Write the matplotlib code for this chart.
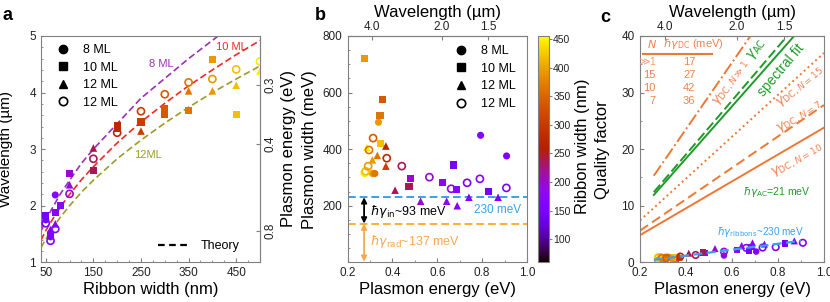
import numpy as np
import matplotlib
matplotlib.use("Agg")
import matplotlib.pyplot as plt
from matplotlib.lines import Line2D
from matplotlib.ticker import MultipleLocator, NullLocator, FormatStrFormatter
from matplotlib.colors import Normalize, PowerNorm
from matplotlib.cm import ScalarMappable

plt.rcParams['font.family'] = ['Liberation Sans', 'DejaVu Sans']
plt.rcParams['mathtext.fontset'] = 'dejavusans'
plt.rcParams['axes.edgecolor'] = '#808080'
plt.rcParams['xtick.color'] = '#808080'
plt.rcParams['ytick.color'] = '#808080'
plt.rcParams['xtick.labelcolor'] = '#222222'
plt.rcParams['ytick.labelcolor'] = '#222222'
plt.rcParams['xtick.direction'] = 'in'
plt.rcParams['ytick.direction'] = 'in'
plt.rcParams['xtick.labelsize'] = 8.5
plt.rcParams['ytick.labelsize'] = 8.5

HC = 1.2398  # eV * um

# ---------------- panel a : wavelength vs ribbon width
a_sq_w = [50, 60, 70, 80, 100, 150, 200, 200, 250, 300, 300, 350, 400, 450]
a_sq_lam = [1.82, 1.48, 1.88, 2.00, 2.57, 2.62, 3.42, 3.36, 3.48, 3.71, 3.61, 3.68, 4.59, 3.62]
a_tri_w = [60, 70, 100, 150, 200, 250, 350, 400, 450, 500]
a_tri_lam = [1.58, 1.68, 2.37, 3.02, 3.38, 3.32, 4.03, 4.03, 4.13, 4.38]
a_open_w = [50, 60, 70, 100, 150, 200, 250, 300, 350, 400, 450, 500]
a_open_lam = [1.69, 1.38, 1.59, 2.21, 2.83, 3.29, 3.67, 3.97, 4.18, 4.24, 4.41, 4.55]
a_circ_w = [50, 60, 60, 70]
a_circ_lam = [1.75, 1.52, 1.45, 2.19]

th8_w = [40, 50, 60, 80, 100, 125, 150, 200, 250, 300, 350, 412]
th8_lam = [1.55, 1.75, 1.9, 2.2, 2.45, 2.75, 3.0, 3.45, 3.9, 4.25, 4.6, 5.0]
th10_w = [40, 50, 60, 80, 100, 125, 150, 200, 250, 300, 350, 400, 450, 502]
th10_lam = [1.39, 1.56, 1.7, 1.97, 2.2, 2.46, 2.69, 3.11, 3.48, 3.81, 4.12, 4.4, 4.67, 4.93]
th12_w = [40, 50, 60, 80, 100, 125, 150, 200, 250, 300, 350, 400, 450, 502]
th12_lam = [1.26, 1.41, 1.55, 1.79, 2.0, 2.24, 2.45, 2.83, 3.16, 3.46, 3.74, 4.0, 4.24, 4.48]

# ---------------- panel b : plasmon width vs energy
b_sq_e = [0.274, 0.356, 0.345, 0.348, 0.482, 0.474, 0.622, 0.674, 0.684, 0.830]
b_sq_g = [722, 575, 518, 420, 296, 269, 283, 344, 257, 249]
b_sq_w = [400, 300, 350, 450, 100, 150, 80, 50, 70, 45]
b_tri_e = [0.286, 0.311, 0.333, 0.371, 0.371, 0.412, 0.526, 0.642, 0.689, 0.741, 0.871]
b_tri_g = [406, 362, 378, 411, 340, 255, 216, 216, 200, 230, 230]
b_tri_w = [500, 400, 350, 200, 250, 150, 100, 80, 70, 60, 50]
b_open_e = [0.277, 0.281, 0.292, 0.296, 0.314, 0.375, 0.442, 0.565, 0.662, 0.733, 0.790, 0.908]
b_open_g = [317, 322, 340, 397, 439, 368, 340, 301, 260, 281, 295, 263]
b_open_w = [500, 450, 400, 350, 300, 200, 150, 100, 80, 50, 70, 60]
b_circ_e = [0.311, 0.322, 0.338, 0.793, 0.909]
b_circ_g = [314, 314, 495, 449, 376]
b_circ_w = [400, 350, 400, 70, 60]

gamma_ribbon = 230
gamma_rad = 137
gamma_in = 93

# ---------------- panel c : quality factor
c_circ_e = [0.311, 0.322, 0.338, 0.565, 0.705]
c_circ_q = [0.99, 0.97, 0.68, 1.2, 1.9]
c_circ_w = [400, 350, 400, 70, 60]

c_line_e0 = [0.26, 0.26, 0.26, 0.20, 0.20, 0.20]
c_line_e1 = [0.68, 0.84, 0.87, 1.00, 1.00, 1.00]
c_line_q0 = [15.3, 12.4, 11.9, 7.4, 5.6, 4.8]
c_line_q1 = [40.0, 40.0, 40.0, 37.0, 27.8, 23.8]
c_fit_e = [0.26, 0.90]
c_fit_q = [0.45, 3.8]

table_n = ['≫1', '15', '10', '7']
table_gamma = [17, 27, 42, 36]

# ---------------- styling
cmap = plt.get_cmap('gnuplot')
pt_norm = PowerNorm(gamma=0.64, vmin=0, vmax=524)
cb_norm = Normalize(60, 455)
ORG = '#ee7733'
ORG_T = '#ef8350'
GRN = '#1f9a28'
BLU = '#35a2f2'
LORG = '#f7a850'


def e2l(x):
    x = np.asarray(x, float)
    with np.errstate(divide='ignore', invalid='ignore'):
        return HC / x


W, H = 830, 302


def box(l, r, t=36, b=262.3):
    return [l / W, 1 - b / H, (r - l) / W, (b - t) / H]


def scat(ax, x, y, w, kind, s=26):
    cols = cmap(pt_norm(np.asarray(w, float)))
    if kind == 'open':
        ax.scatter(x, y, s=s, facecolors='none', edgecolors=cols,
                   linewidths=1.2, marker='o', zorder=4)
    else:
        ax.scatter(x, y, s=s, c=cols, marker=kind, edgecolors='none', zorder=3)


def legend_handles():
    kw = dict(ls='none', color='k', ms=6)
    return [Line2D([], [], marker='o', **kw),
            Line2D([], [], marker='s', **kw),
            Line2D([], [], marker='^', **kw),
            Line2D([], [], marker='o', mfc='none', mec='k', mew=1.2, ls='none', ms=6)]


labels4 = ['8 ML', '10 ML', '12 ML', '12 ML']

fig = plt.figure(figsize=(8.3, 3.02), dpi=100)

# ================= a
axa = fig.add_axes(box(41, 260))
dash = (4, 2)
axa.plot(th8_w, th8_lam, ls='--', dashes=dash, color='#9b30b0', lw=1.2, zorder=2)
axa.plot(th10_w, th10_lam, ls='--', dashes=dash, color='#f02828', lw=1.2, zorder=2)
axa.plot(th12_w, th12_lam, ls='--', dashes=dash, color='#9c9c26', lw=1.2, zorder=2)
scat(axa, a_sq_w, a_sq_lam, a_sq_w, 's')
scat(axa, a_tri_w, a_tri_lam, a_tri_w, '^', 30)
scat(axa, a_circ_w, a_circ_lam, a_circ_w, 'o')
scat(axa, a_open_w, a_open_lam, a_open_w, 'open')
axa.text(293, 4.51, '8 ML', color='#9b30b0', fontsize=8, ha='center', va='center')
axa.text(440, 4.80, '10 ML', color='#f02828', fontsize=8, ha='center', va='center')
axa.text(265, 2.90, '12ML', color='#9c9c26', fontsize=8, ha='center', va='center')
axa.set_xlim(40, 500)
axa.set_ylim(1, 5)
axa.set_xticks([50, 150, 250, 350, 450])
axa.xaxis.set_minor_locator(MultipleLocator(25))
axa.yaxis.set_major_locator(MultipleLocator(1))
axa.yaxis.set_minor_locator(MultipleLocator(0.2))
axa.tick_params(which='major', length=3)
axa.tick_params(which='minor', length=1.5)
axa.set_xlabel('Ribbon width (nm)', fontsize=12, labelpad=2)
axa.set_ylabel('Wavelength (µm)', fontsize=11)
axa.yaxis.set_label_coords(-0.127, 0.5)
leg = axa.legend(legend_handles(), labels4, loc='upper left', bbox_to_anchor=(0.072, 0.965),
                 frameon=False, fontsize=9, handlelength=1.0, handletextpad=1.1,
                 labelspacing=0.45, borderaxespad=0, borderpad=0)
axa.add_artist(leg)
axa.legend([Line2D([], [], color='k', ls='--', dashes=(3, 2), lw=1.6)], ['Theory'],
           loc='lower left', bbox_to_anchor=(0.535, 0.045), frameon=False, fontsize=9,
           handlelength=2.6, handletextpad=0.8, borderaxespad=0, borderpad=0)
seca = axa.secondary_yaxis('right', functions=(e2l, e2l))
seca.set_yticks([0.3, 0.4, 0.8])
seca.set_yticklabels(['0.3', '0.4', '0.8'], rotation=90, va='center')
seca.yaxis.set_minor_locator(NullLocator())
seca.tick_params(length=3)
fig.text(288 / W, 0.507, 'Plasmon energy (eV)', rotation=90, fontsize=12,
         ha='center', va='center')

# ================= b
axb = fig.add_axes(box(347.5, 527))
axb.axhline(gamma_ribbon, color=BLU, ls='--', dashes=(4, 2), lw=1.4, zorder=2)
axb.axhline(gamma_rad, color='#ffae35', ls='--', dashes=(4, 2), lw=1.4, zorder=2)
axb.annotate('', xy=(0.274, gamma_rad), xytext=(0.274, gamma_ribbon),
             arrowprops=dict(arrowstyle='<|-|>', color='k', lw=1.3, mutation_scale=8,
                             shrinkA=0, shrinkB=0))
axb.annotate('', xy=(0.274, 2), xytext=(0.274, gamma_rad),
             arrowprops=dict(arrowstyle='<|-|>', color=LORG, lw=1.3, mutation_scale=8,
                             shrinkA=0, shrinkB=0))
axb.text(0.30, 180, r'$\hbar\gamma_{\rm in}$~%d meV' % gamma_in, fontsize=9, va='center')
axb.text(0.30, 73, r'$\hbar\gamma_{\rm rad}$~%d meV' % gamma_rad, fontsize=9,
         va='center', color=LORG)
axb.text(0.765, 186, '%d meV' % gamma_ribbon, fontsize=8.5, va='center', color=BLU)
scat(axb, b_sq_e, b_sq_g, b_sq_w, 's')
scat(axb, b_tri_e, b_tri_g, b_tri_w, '^', 30)
scat(axb, b_circ_e, b_circ_g, b_circ_w, 'o')
scat(axb, b_open_e, b_open_g, b_open_w, 'open')
axb.set_xlim(0.2, 1.0)
axb.set_ylim(0, 800)
axb.set_xticks([0.2, 0.4, 0.6, 0.8, 1.0])
axb.xaxis.set_major_formatter(FormatStrFormatter('%.1f'))
axb.xaxis.set_minor_locator(MultipleLocator(0.1))
axb.set_yticks([200, 400, 600, 800])
axb.yaxis.set_minor_locator(MultipleLocator(50))
axb.tick_params(which='major', length=3)
axb.tick_params(which='minor', length=1.5)
axb.set_xlabel('Plasmon energy (eV)', fontsize=12, labelpad=2)
axb.set_ylabel('Plasmon width (meV)', fontsize=12)
axb.yaxis.set_label_coords(-0.17, 0.5)
axb.legend(legend_handles(), labels4, loc='upper left', bbox_to_anchor=(0.60, 0.96),
           frameon=False, fontsize=9, handlelength=1.0, handletextpad=1.1,
           labelspacing=0.45, borderaxespad=0, borderpad=0)
secb = axb.secondary_xaxis('top', functions=(e2l, e2l))
secb.set_xticks([4.0, 2.0, 1.5])
secb.xaxis.set_major_formatter(FormatStrFormatter('%.1f'))
secb.xaxis.set_minor_locator(NullLocator())
secb.tick_params(length=3, pad=2)
secb.set_xlabel('Wavelength (µm)', fontsize=12, labelpad=3)

cax = fig.add_axes(box(538, 549))
cb = fig.colorbar(ScalarMappable(norm=cb_norm, cmap=cmap), cax=cax,
                  ticks=[100, 150, 200, 250, 300, 350, 400, 450])
cb.outline.set_edgecolor('#808080')
cax.tick_params(direction='out', length=2, labelsize=7.5, pad=1)
fig.text(582 / W, 0.515, 'Ribbon width (nm)', rotation=90, fontsize=12,
         ha='center', va='center')

# ================= c
axc = fig.add_axes(box(640, 824))
styles = [dict(color=ORG, ls='-.'), dict(color=GRN, ls='--', dashes=(5, 2)),
          dict(color=GRN, ls='-'), dict(color=ORG, ls=':'),
          dict(color=ORG, ls='--', dashes=(5, 2.5)), dict(color=ORG, ls='-')]
for e0, e1, q0, q1, st in zip(c_line_e0, c_line_e1, c_line_q0, c_line_q1, styles):
    axc.plot([e0, e1], [q0, q1], lw=1.4, **st)
axc.plot(c_fit_e, c_fit_q, color=BLU, ls='--', dashes=(4, 2), lw=1.6, zorder=5)

q_sq = np.array(b_sq_e) * 1000 / np.array(b_sq_g)
q_tri = np.array(b_tri_e) * 1000 / np.array(b_tri_g)
q_open = np.array(b_open_e) * 1000 / np.array(b_open_g)
scat(axc, b_sq_e, q_sq, b_sq_w, 's', 22)
scat(axc, b_tri_e, q_tri, b_tri_w, '^', 26)
scat(axc, c_circ_e, c_circ_q, c_circ_w, 'o', 22)
scat(axc, b_open_e, q_open, b_open_w, 'open', 22)

# table
axc.text(0.229, 38.5, r'$N$', color=ORG_T, fontsize=8, ha='left', va='center')
axc.text(0.30, 38.5, r'$\hbar\gamma_{\rm DC}$ (meV)', color=ORG_T, fontsize=8,
         ha='left', va='center')
axc.plot([0.016, 0.39], [0.922, 0.922], transform=axc.transAxes, color=ORG, lw=1.5)
for i, (n, g) in enumerate(zip(table_n, table_gamma)):
    yq = 35.4 - i * 2.27
    axc.text(0.268, yq, n, color='#f5a27a' if i == 0 else ORG_T, fontsize=8,
             ha='right', va='center')
    axc.text(0.387, yq, '%d' % g, color=ORG_T, fontsize=8, ha='left', va='center')

axc.text(0.60, 31.6, r'$\gamma_{\rm DC,\mathit{N}\gg1}$', color=ORG_T, fontsize=9.5,
         rotation=55, ha='center', va='center')
axc.text(0.708, 37.6, r'$\gamma_{\rm AC}$', color=GRN, fontsize=10,
         rotation=55, ha='center', va='center')
axc.text(0.815, 34.0, 'spectral fit', color=GRN, fontsize=10,
         rotation=50, ha='center', va='center')
axc.text(0.896, 31.0, r'$\gamma_{\rm DC,\mathit{N}=15}$', color=ORG_T, fontsize=9.5,
         rotation=40, ha='center', va='center')
axc.text(0.896, 25.6, r'$\gamma_{\rm DC,\mathit{N}=7}$', color=ORG_T, fontsize=9.5,
         rotation=33, ha='center', va='center')
axc.text(0.884, 18.0, r'$\gamma_{\rm DC,\mathit{N}=10}$', color=ORG_T, fontsize=9.5,
         rotation=30, ha='center', va='center')
axc.text(0.649, 12.5, r'$\hbar\gamma_{\rm AC}$=21 meV', color=GRN, fontsize=7.5,
         ha='left', va='center')
axc.text(0.533, 5.4, r'$\hbar\gamma_{\rm ribbons}$~230 meV', color=BLU, fontsize=7.2,
         ha='left', va='center')

axc.set_xlim(0.2, 1.0)
axc.set_ylim(0, 40)
axc.set_xticks([0.2, 0.4, 0.6, 0.8, 1.0])
axc.xaxis.set_major_formatter(FormatStrFormatter('%.1f'))
axc.xaxis.set_minor_locator(MultipleLocator(0.1))
axc.yaxis.set_major_locator(MultipleLocator(10))
axc.yaxis.set_minor_locator(MultipleLocator(5))
axc.tick_params(which='major', length=3)
axc.tick_params(which='minor', length=1.5)
axc.tick_params(axis='y', pad=4)
axc.set_xlabel('Plasmon energy (eV)', fontsize=12, labelpad=2)
axc.set_ylabel('Quality factor', fontsize=12)
axc.yaxis.set_label_coords(-0.165, 0.5)
secc = axc.secondary_xaxis('top', functions=(e2l, e2l))
secc.set_xticks([4.0, 2.0, 1.5])
secc.xaxis.set_major_formatter(FormatStrFormatter('%.1f'))
secc.xaxis.set_minor_locator(NullLocator())
secc.tick_params(length=3, pad=2)
secc.set_xlabel('Wavelength (µm)', fontsize=12, labelpad=3)

# panel letters
fig.text(2 / W, 1 - 20 / H, 'a', fontsize=13, fontweight='bold')
fig.text(315 / W, 1 - 20 / H, 'b', fontsize=13, fontweight='bold')
fig.text(600 / W, 1 - 22 / H, 'c', fontsize=13, fontweight='bold')

fig.savefig('out.png', dpi=100)
